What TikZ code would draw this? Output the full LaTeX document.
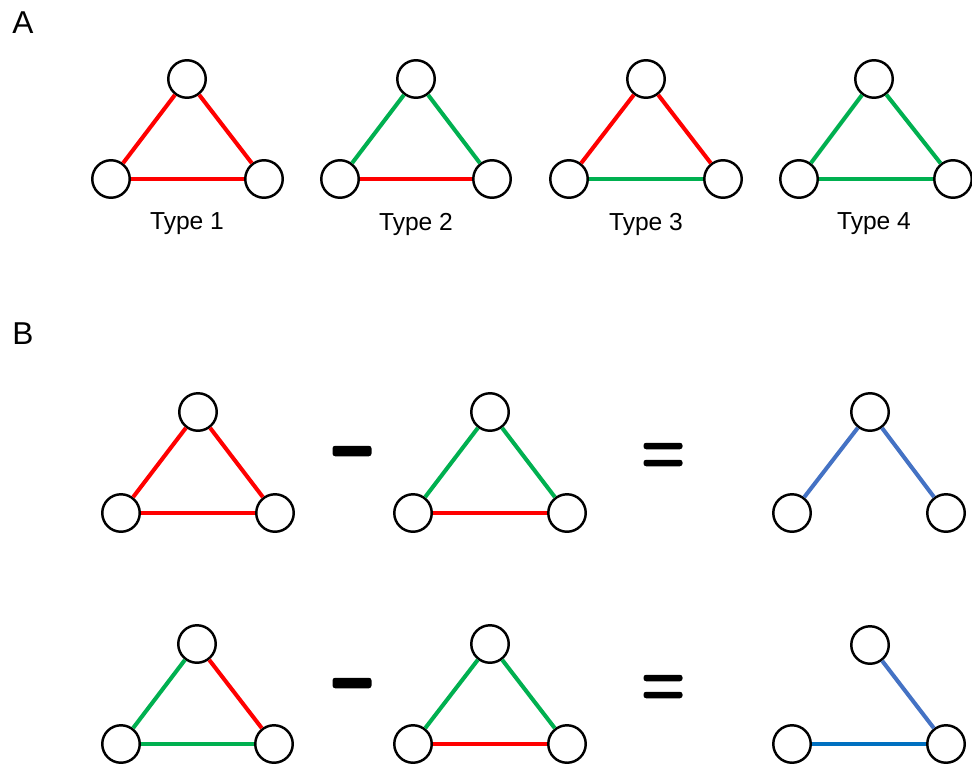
\documentclass[tikz,border=0pt]{standalone}
\usepackage{fontspec}
\setmainfont{Liberation Sans}
\definecolor{edgered}{RGB}{255,0,0}
\definecolor{edgegreen}{RGB}{0,176,80}
\definecolor{edgeblue}{RGB}{68,114,196}
\definecolor{edgedarkblue}{RGB}{0,112,192}

\begin{document}
\begin{tikzpicture}[x=0.02cm, y=-0.02cm,
    vertex/.style={circle, draw, line width=1.4pt, fill=white, minimum size=0.75cm, inner sep=0pt},
    redge/.style={edgered, line width=2.3pt},
    gedge/.style={edgegreen, line width=2.3pt},
    bedge/.style={edgeblue, line width=2.3pt},
    dbedge/.style={edgedarkblue, line width=2.3pt},
    bar/.style={fill=black, rounded corners=1.5pt, minimum width=0.78cm, inner sep=0pt},
    panel/.style={font=\fontsize{18pt}{20pt}\selectfont},
    typelabel/.style={font=\fontsize{14pt}{16pt}\selectfont}]
    \useasboundingbox (0,0) rectangle (972,767);

    % Panel letters
    \node[panel] (labA) at (23,23) {A};
    \node[panel] (labB) at (23,334) {B};

    % A: the four triangle types
    \node[vertex] (t1a) at (187,79) {};
    \node[vertex] (t1b) at (111,179) {};
    \node[vertex] (t1c) at (264,179) {};
    \draw[redge] (t1a) -- (t1b);
    \draw[redge] (t1a) -- (t1c);
    \draw[redge] (t1b) -- (t1c);
    \node[typelabel] (ty1) at (187,224) {Type 1};

    \node[vertex] (t2a) at (416,79) {};
    \node[vertex] (t2b) at (340,179) {};
    \node[vertex] (t2c) at (492,179) {};
    \draw[gedge] (t2a) -- (t2b);
    \draw[gedge] (t2a) -- (t2c);
    \draw[redge] (t2b) -- (t2c);
    \node[typelabel] (ty2) at (416,224) {Type 2};

    \node[vertex] (t3a) at (646,79) {};
    \node[vertex] (t3b) at (569,179) {};
    \node[vertex] (t3c) at (723,179) {};
    \draw[redge] (t3a) -- (t3b);
    \draw[redge] (t3a) -- (t3c);
    \draw[gedge] (t3b) -- (t3c);
    \node[typelabel] (ty3) at (646,224) {Type 3};

    \node[vertex] (t4a) at (874,79) {};
    \node[vertex] (t4b) at (799,179) {};
    \node[vertex] (t4c) at (953,179) {};
    \draw[gedge] (t4a) -- (t4b);
    \draw[gedge] (t4a) -- (t4c);
    \draw[gedge] (t4b) -- (t4c);
    \node[typelabel] (ty4) at (874,224) {Type 4};

    % B, first row: Type 1 - Type 2
    \node[vertex] (p1a) at (198,412) {};
    \node[vertex] (p1b) at (121,513) {};
    \node[vertex] (p1c) at (275,513) {};
    \draw[redge] (p1a) -- (p1b);
    \draw[redge] (p1a) -- (p1c);
    \draw[redge] (p1b) -- (p1c);

    \node[bar, minimum height=0.21cm] (minus1) at (352,451) {};

    \node[vertex] (q1a) at (490,412) {};
    \node[vertex] (q1b) at (413,513) {};
    \node[vertex] (q1c) at (567,513) {};
    \draw[gedge] (q1a) -- (q1b);
    \draw[gedge] (q1a) -- (q1c);
    \draw[redge] (q1b) -- (q1c);

    \node[bar, minimum height=0.13cm] (eqtop1) at (663,446) {};
    \node[bar, minimum height=0.13cm] (eqbot1) at (663,463) {};

    \node[vertex] (r1a) at (870,412) {};
    \node[vertex] (r1b) at (792,513) {};
    \node[vertex] (r1c) at (946,513) {};
    \draw[bedge] (r1a) -- (r1b);
    \draw[bedge] (r1a) -- (r1c);

    % B, second row: Type 2 - Type 1
    \node[vertex] (p2a) at (197,644) {};
    \node[vertex] (p2b) at (121,744) {};
    \node[vertex] (p2c) at (274,744) {};
    \draw[gedge] (p2a) -- (p2b);
    \draw[redge] (p2a) -- (p2c);
    \draw[gedge] (p2b) -- (p2c);

    \node[bar, minimum height=0.21cm] (minus2) at (352,683) {};

    \node[vertex] (q2a) at (490,644) {};
    \node[vertex] (q2b) at (413,744) {};
    \node[vertex] (q2c) at (567,744) {};
    \draw[gedge] (q2a) -- (q2b);
    \draw[gedge] (q2a) -- (q2c);
    \draw[redge] (q2b) -- (q2c);

    \node[bar, minimum height=0.13cm] (eqtop2) at (663,678) {};
    \node[bar, minimum height=0.13cm] (eqbot2) at (663,695) {};

    \node[vertex] (r2a) at (870,645) {};
    \node[vertex] (r2b) at (792,744) {};
    \node[vertex] (r2c) at (946,744) {};
    \draw[bedge] (r2a) -- (r2c);
    \draw[dbedge] (r2b) -- (r2c);
\end{tikzpicture}
\end{document}
